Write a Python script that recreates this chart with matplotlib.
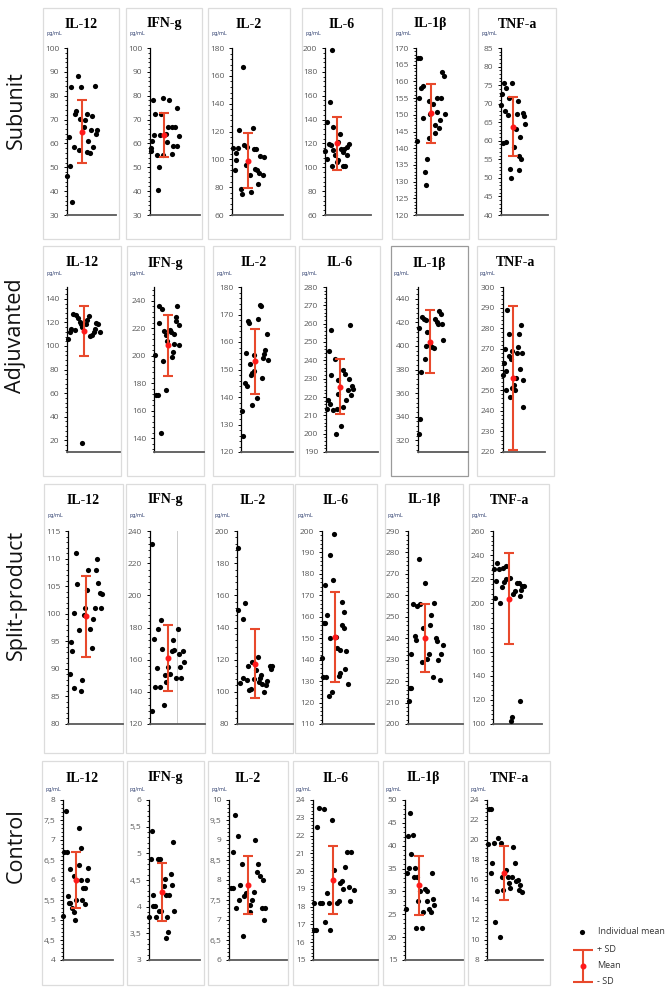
import matplotlib
matplotlib.use("Agg")
import matplotlib.pyplot as plt
from matplotlib.patches import Rectangle
from matplotlib.ticker import MultipleLocator, AutoMinorLocator, FuncFormatter

# ---- data -------------------------------------------------------------
GROUPS = ["Subunit", "Adjuvanted", "Split-product", "Control"]
CYTOKINES = ["IL-12", "IFN-g", "IL-2", "IL-6", "IL-1β", "TNF-a"]

# axis ranges (min, max, major step) per row
SUB_RANGE = [(30, 100, 10), (30, 100, 10), (60, 180, 20), (60, 200, 20), (120, 170, 5), (40, 85, 5)]
ADJ_RANGE = [(10, 150, 20), (130, 250, 20), (120, 180, 10), (190, 280, 10), (310, 450, 20), (220, 300, 10)]
SPL_RANGE = [(80, 115, 5), (120, 240, 20), (80, 200, 20), (110, 200, 10), (200, 290, 10), (100, 260, 20)]
CTL_RANGE = [(4, 8, 0.5), (3, 6, 0.5), (6, 10, 0.5), (15, 24, 1), (15, 50, 5), (8, 24, 2)]

SUB_MEAN = [65, 63.5, 99, 120, 150.5, 63.8]
SUB_SD = [13, 9.2, 19.8, 22.5, 8.8, 7.9]
ADJ_MEAN = [112.5, 207.5, 153, 225.5, 403.5, 256]
ADJ_SD = [21.3, 22, 11.9, 15, 26.8, 35]
SPL_MEAN = [99.5, 161, 117.5, 150.5, 240, 204]
SPL_SD = [7.4, 20.5, 21.4, 21, 15.8, 37.4]
CTL_MEAN = [6.0, 4.28, 7.88, 19.5, 31.3, 16.7]
CTL_SD = [0.7, 0.54, 0.73, 1.9, 6.4, 2.7]

# individual means (values) and their horizontal jitter (px from y axis)
SUB_IL12 = [83.5, 88.2, 83.8, 84.2, 62.8, 46.4, 50.4, 35.4, 73.8, 72.4, 70.3, 58.5, 57.1,
            72.3, 71.7, 67, 65.8, 65.8, 63.9, 61.1, 58.4, 56.6, 55.8, 69.9]
SUB_IL12_X = [3.7, 10.7, 14, 27.7, 2, 0.3, 3, 5.3, 8.7, 8, 12.7, 6.7, 12,
              20, 25.3, 16.7, 24, 30, 28.7, 20.7, 26, 20, 22.7, 17.7]
SUB_IFNG = [78, 79, 78, 74.9, 72.4, 72.4, 63.5, 63.5, 61.2, 58, 57, 55, 55, 50.3, 40.5,
            66.8, 66.8, 67, 60.5, 59, 59, 63, 55.6, 64]
SUB_IFNG_X = [3.3, 13.3, 19.3, 26.7, 5.3, 11.3, 4, 10, 1.7, 1, 0.7, 6.7, 12.7, 9, 7.7,
              18.3, 22, 25.3, 16.7, 23.3, 26.7, 28.7, 22.3, 16]
SUB_IL2 = [166.4, 121.4, 122.3, 108.5, 108.5, 104.6, 110, 109, 107.3, 107.3, 99.2, 92, 96,
           88.9, 92.9, 92, 102.5, 102, 90.1, 88.4, 82.4, 78.6, 75, 76.4]
SUB_IL2_X = [11.3, 7.3, 20.7, 1, 6.3, 4.3, 11.7, 15, 22.3, 24.3, 3.7, 3, 14.3,
             17.7, 23, 25, 28.3, 32.3, 26.7, 30.7, 26, 9.3, 10, 19]
SUB_IL6 = [198.6, 154.5, 137.6, 134, 114, 107.2, 119.9, 118.5, 100.8, 114.3, 110, 104.4,
           105.8, 128.3, 115.7, 112.9, 115.7, 117.1, 119.3, 110, 100.8, 100.8, 121.5]
SUB_IL6_X = [7.3, 5.3, 2.3, 8.3, 0.3, 1.7, 4, 5.7, 6.7, 7.7, 10, 11.7,
             13.3, 15, 15.7, 17.7, 19, 21.7, 23.7, 22.3, 17.7, 19.7, 13.3]
SUB_IL1B = [167, 167, 154.9, 157.9, 158.7, 149.1, 142.1, 154.1, 153.1, 150.2, 143, 136.9,
            133, 129, 154.9, 154.9, 150.7, 162.9, 161.7, 150.3, 148.3, 146.9, 145.9, 144.5]
SUB_IL1B_X = [1.7, 4, 3, 5, 7.3, 6.7, 0.7, 13, 17.3, 14, 13, 11.3,
              9, 10, 20.7, 24.7, 21.3, 26.3, 28, 28.7, 24, 19.3, 23, 19.3]
SUB_TNFA = [75.5, 74.2, 75.5, 72.6, 69.6, 67.9, 67, 71.6, 59.3, 59.6, 70.6, 67.3, 67.4,
            66.8, 64.5, 63.1, 60.9, 58.2, 55.9, 55.2, 52.5, 52.2, 50.1]
SUB_TNFA_X = [2.7, 5, 11, 1, 0, 3.7, 7, 7.7, 1.7, 5, 16.7, 16, 21.7,
              23.3, 23.7, 14.7, 19.3, 13.3, 18, 20.3, 8.7, 17.7, 10]

ADJ_IL12 = [105.6, 111.8, 114.1, 127.4, 126.5, 113.6, 123.7, 120.3, 118.3, 116.3, 118.6,
            122, 125.4, 108.4, 109.6, 111.8, 114.1, 119.2, 118.6, 112.1, 17.6]
ADJ_IL12_X = [1, 2.7, 4.3, 6, 8.7, 7.7, 11.3, 12.7, 14, 15.3, 19.3,
              20.3, 22, 23.3, 24.7, 26.7, 28, 29, 31.3, 33, 15.3]
ADJ_IFNG = [236.4, 234.2, 223.8, 200.3, 171.5, 171.5, 144.1, 175, 196, 218, 215, 211,
            219, 217.3, 202.7, 208.8, 199, 215.6, 228.2, 236.4, 225, 222.6, 208.1]
ADJ_IFNG_X = [4.7, 8, 5.3, 1.3, 1.7, 4, 7, 11.7, 8.7, 10, 11.7, 12.7,
              16.3, 17, 18.7, 19.7, 17.7, 20, 22, 23, 22, 25, 25.3]
ADJ_IL2 = [135, 125.7, 145, 144.1, 156, 167.7, 167, 152.1, 148, 148.9, 149.6, 155.4, 137,
           139.6, 168.4, 173.5, 173, 146.8, 154.1, 155.6, 157.2, 163, 153.3]
ADJ_IL2_X = [1.3, 2.3, 4.3, 6.3, 5.3, 6.7, 7.7, 8.7, 10, 11.3, 12.7, 13.3, 11.3,
             16, 17.3, 18.7, 19.7, 20.7, 22, 22.7, 24.3, 26, 27.3]
ADJ_IL6 = [256.7, 245.1, 240.9, 231.8, 218.5, 213.6, 216.4, 212.7, 213.6, 199.6, 229.5,
           221.5, 204.2, 214.5, 234.9, 232.7, 218.2, 223.6, 230, 259.1, 220.9, 226, 224.5]
ADJ_IL6_X = [4.7, 3.3, 8.7, 5.3, 1.7, 0.7, 4, 7.3, 10.7, 10, 12.3,
             12.3, 15.3, 16.7, 17.3, 18.7, 20, 22.3, 23, 24, 24.7, 26, 27.3]
ADJ_IL1B = [324.9, 338.2, 414.8, 378.2, 424.6, 423.2, 422.4, 388.9, 412, 400.1, 400.7,
            399.3, 397.9, 423.2, 420.4, 418.4, 429.7, 427.5, 418.2, 404.9]
ADJ_IL1B_X = [0.7, 2, 1, 3, 4.3, 6.3, 8, 6.7, 9, 8.3, 12.3,
              14, 16, 17.3, 19, 19.7, 21.3, 23, 23.7, 24.7]
ADJ_TNFA = [289, 277.2, 270.1, 263.2, 257.2, 259.1, 249.9, 266.4, 265.3, 268.8, 246.9,
            251.1, 252.3, 249.9, 255.9, 268, 270.9, 277.1, 281.7, 260.3, 268.2, 255.1, 241.7]
ADJ_TNFA_X = [4.3, 6, 2, 0.7, 0, 3.3, 2.7, 6, 8, 9, 7.3,
              9.3, 11.3, 12, 13.3, 14, 15.3, 16.3, 18, 17.3, 19, 20.3, 19.7]

SPL_IL12 = [89, 94.9, 93.3, 86.6, 111.1, 100.1, 105.4, 97, 85.9, 88, 99.8, 101.1, 104.3,
            108, 97.3, 93.7, 99, 101.1, 107.9, 110, 105.6, 103.7, 103.6, 101.1]
SPL_IL12_X = [1.7, 2.7, 4, 5.7, 8, 6.3, 9.3, 11, 12.7, 13.7, 15.7, 16.7, 19.3,
              20.3, 21.7, 23.7, 24.7, 26.7, 27.7, 29, 30, 31.7, 34.3, 33]
SPL_IFNG = [232.1, 128, 173.1, 143.1, 155.1, 178.9, 142.7, 184.7, 166.9, 132.1, 150.6,
            146.2, 155.7, 150.8, 165.1, 166.1, 172.1, 148.9, 178.9, 163.4, 148.9, 155.7,
            165.1, 158.8]
SPL_IFNG_X = [1.7, 2.3, 3.7, 4.7, 6.7, 8, 10, 11.3, 12, 14, 15,
              15.7, 18.3, 20, 21.7, 24, 23, 26, 27.7, 29, 31, 30.3, 33, 34.3]
SPL_IL2 = [189.4, 150.6, 105.4, 108.7, 145, 155.2, 107.5, 115.8, 100.9, 101.9, 118.5,
           108.1, 113.3, 121.6, 106.1, 108.7, 110.6, 105, 100, 104.4, 106.6, 115.8, 114, 115.8]
SPL_IL2_X = [1, 1.3, 3.3, 5.7, 6.3, 7.7, 10, 10.7, 12, 14, 15,
             16.7, 19.3, 20.7, 21.7, 22.7, 24.3, 25.3, 26.7, 29, 30, 32.7, 34, 35]
SPL_IL6 = [198.8, 189, 177, 175, 161, 157.2, 157.2, 140.8, 131.9, 131.9, 122.9, 124.9, 150,
           150.5, 145.5, 144.4, 132.2, 133.8, 167, 162, 156.1, 154.8, 143.9, 135.8, 128.8]
SPL_IL6_X = [11.7, 7.7, 10.7, 3.3, 5.3, 2, 3.3, 0, 1, 4.3, 6.7, 10, 8.3,
             13.7, 15, 17.7, 16.7, 17.7, 20, 22.3, 19.7, 21.7, 24.3, 23.3, 26.3]
SPL_IL1B = [210.9, 216.8, 216.8, 232.8, 256, 240.9, 239.1, 255, 277.1, 256, 228.9, 244.8,
            265.9, 230.3, 232.8, 246.1, 250.7, 222, 256.4, 239.9, 238.6, 230, 220.4, 232.8, 236.7]
SPL_IL1B_X = [0.7, 1.7, 3, 3.3, 5, 6.7, 8.3, 9, 10.7, 11.7, 13.7, 15,
              16.7, 19, 20.7, 21.7, 23.3, 24.7, 26.3, 27.7, 29, 30, 31.7, 33.3, 34.7]
SPL_TNFA = [228.4, 204.8, 218.7, 233.7, 228.1, 200.7, 213.7, 229, 217.9, 220.3, 231.2,
            220.7, 102.8, 105.5, 207.6, 210, 216.5, 216.5, 206.2, 210.9, 214.2, 214.5, 119.4]
SPL_TNFA_X = [0.7, 2, 3.3, 4.3, 6, 7, 8.7, 9.7, 11.3, 12.7, 13,
              17, 18, 18.7, 20, 22, 24, 26, 27.3, 28.3, 29.3, 31, 26.7]

CTL_IL12 = [7.72, 6.71, 6.71, 5.1, 5.61, 5.42, 5.42, 6.27, 5.29, 5.21, 5, 6.11, 5.5,
            7.31, 6.38, 6.79, 6, 5.5, 5.79, 5.79, 5.4, 6, 6.31]
CTL_IL12_X = [2.7, 1.3, 4.3, 0.3, 4.7, 6, 7.3, 6.7, 9.3, 10.7, 11.7, 10.7, 13.3,
              16, 15.7, 18.3, 17.7, 19.3, 20.3, 22, 22, 24, 24.7]
CTL_IFNG = [5.42, 4.9, 3.81, 4.22, 4.01, 4.01, 3.81, 4.9, 4.9, 3.91, 3.91, 4.39, 4.52,
            4.22, 3.81, 3.52, 3.41, 4.22, 4.61, 4.41, 5.22, 3.91]
CTL_IFNG_X = [3, 2, 0, 4, 4, 6.3, 7, 8.7, 10.7, 9.7, 11.7, 14.7, 16,
              16.7, 18, 19, 17.3, 20.3, 22, 23.3, 24.3, 25.3]
CTL_IL2 = [9.62, 8.69, 9.1, 7.8, 7.8, 7.29, 7.49, 7.88, 8.4, 7.59, 7.67, 6.59, 7.19,
           7.38, 7.49, 7.69, 9, 8.19, 8.4, 8.09, 7.99, 7.29, 7.29, 6.99]
CTL_IL2_X = [5.7, 4, 8.7, 2, 3.7, 6.7, 10, 11.3, 13, 15.3, 16.7, 14, 20.7,
             21.3, 23, 24.7, 26.3, 28, 29.3, 31, 34, 32.7, 36.3, 35.3]
CTL_IL6 = [23.57, 23.47, 22.46, 22.87, 16.69, 16.69, 18.2, 18.2, 18.2, 17.13, 18.78, 18.2,
           16.69, 20.04, 18.2, 18.31, 19.33, 19.42, 19, 20.23, 21.06, 21.06, 19.1, 18.31, 18.91]
CTL_IL6_X = [6, 10.7, 4, 19, 1.3, 2.7, 0.7, 7.3, 9, 12.3, 14, 15.7,
             17.3, 21.3, 24, 25.7, 27.3, 29, 30, 32.3, 34, 38.3, 35.7, 37.3, 40.7]
CTL_IL1B = [26.1, 34.1, 42.1, 47.2, 42.3, 38.1, 35.1, 35.1, 33.2, 33.2, 22.1, 22.1, 28,
            30.1, 25.6, 30.5, 30, 27.9, 26.1, 25.6, 34.1, 28.3, 27]
CTL_IL1B_X = [0.7, 1.7, 3, 5, 7.7, 6.3, 4, 10, 9, 12.3, 11, 17, 13.3,
              15, 18.3, 19.7, 21.7, 22.3, 24.3, 25.7, 27, 28.3, 29.3]
CTL_TNFA = [23.13, 23.13, 19.63, 19.73, 17.73, 16.73, 11.8, 10.27, 14.9, 20.2, 19.7, 16.33,
            15, 17, 16.33, 15.67, 15.23, 16.33, 19.33, 17.73, 15.9, 16, 14.97, 15.5, 14.8]
CTL_TNFA_X = [2.3, 4, 1.3, 6.7, 5.3, 4.3, 8.3, 12.7, 9.7, 11.3, 13.7, 14.7,
              16.3, 19.3, 20.7, 21.7, 23.3, 25, 26.3, 28, 29.3, 31.3, 32, 33.3, 34.7]

# ---- layout (pixels of the 672x991 canvas) ----------------------------
W, H = 672, 991
ROW_BOX_Y = [(8, 239), (246, 476), (484, 753), (761, 985)]
ROW_AX_Y = [(48, 215), (287, 452), (531, 724), (800, 960)]
ROW_TITLE_Y = [24, 263, 500, 778]
ROW_UNIT_Y = [34, 273, 515, 790]
ROW_LABEL_Y = [110, 336, 595, 846]
BOX_X = [
    [(43, 119), (126, 202), (208, 290), (302, 382), (392, 469), (478, 556)],
    [(43, 121), (127, 204), (213, 295), (299, 380), (391, 468), (477, 554)],
    [(44, 123), (126, 205), (212, 293), (295, 377), (385, 463), (469, 549)],
    [(42, 123), (127, 204), (208, 288), (293, 378), (383, 464), (468, 550)],
]
AX_X = [
    [(67, 116), (150, 200), (232, 283), (325, 371), (416, 463), (501, 548)],
    [(67, 120), (154, 204), (241, 293), (326, 378), (418, 468), (503, 545)],
    [(68, 123), (150, 205), (237, 293), (322, 374), (408, 463), (493, 542)],
    [(63, 113), (149, 200), (229, 287), (313, 378), (405, 463), (487, 543)],
]

ERR_COLOR = "#e8492c"
TICK_GRAY = "#595959"

rows = [
    (SUB_RANGE, SUB_MEAN, SUB_SD,
     [(SUB_IL12, SUB_IL12_X), (SUB_IFNG, SUB_IFNG_X), (SUB_IL2, SUB_IL2_X),
      (SUB_IL6, SUB_IL6_X), (SUB_IL1B, SUB_IL1B_X), (SUB_TNFA, SUB_TNFA_X)]),
    (ADJ_RANGE, ADJ_MEAN, ADJ_SD,
     [(ADJ_IL12, ADJ_IL12_X), (ADJ_IFNG, ADJ_IFNG_X), (ADJ_IL2, ADJ_IL2_X),
      (ADJ_IL6, ADJ_IL6_X), (ADJ_IL1B, ADJ_IL1B_X), (ADJ_TNFA, ADJ_TNFA_X)]),
    (SPL_RANGE, SPL_MEAN, SPL_SD,
     [(SPL_IL12, SPL_IL12_X), (SPL_IFNG, SPL_IFNG_X), (SPL_IL2, SPL_IL2_X),
      (SPL_IL6, SPL_IL6_X), (SPL_IL1B, SPL_IL1B_X), (SPL_TNFA, SPL_TNFA_X)]),
    (CTL_RANGE, CTL_MEAN, CTL_SD,
     [(CTL_IL12, CTL_IL12_X), (CTL_IFNG, CTL_IFNG_X), (CTL_IL2, CTL_IL2_X),
      (CTL_IL6, CTL_IL6_X), (CTL_IL1B, CTL_IL1B_X), (CTL_TNFA, CTL_TNFA_X)]),
]


def fx(x):
    return x / W


def fy(y):
    return 1 - y / H


comma_fmt = FuncFormatter(lambda v, p: f"{v:g}".replace(".", ","))

fig = plt.figure(figsize=(W / 100, H / 100), dpi=100)
fig.patch.set_facecolor("white")

for r, (ranges, means, sds, panels) in enumerate(rows):
    by0, by1 = ROW_BOX_Y[r]
    ay0, ay1 = ROW_AX_Y[r]
    fig.text(fx(16), fy(ROW_LABEL_Y[r]), GROUPS[r], rotation=90, ha="center", va="center",
             fontsize=15.5, family="Open Sans", color="#111111")
    for c, (vals, jit) in enumerate(panels):
        bx0, bx1 = BOX_X[r][c]
        ax0, ax1 = AX_X[r][c]
        edge = "#9a9a9a" if (r == 1 and c == 4) else "#dcdcdc"
        fig.add_artist(Rectangle((fx(bx0), fy(by1)), fx(bx1 - bx0), (by1 - by0) / H,
                                 transform=fig.transFigure, facecolor="white",
                                 edgecolor=edge, lw=0.9, zorder=0))
        fig.text(fx((bx0 + bx1) / 2), fy(ROW_TITLE_Y[r]), CYTOKINES[c], ha="center",
                 va="center", fontsize=10, fontweight="bold", family="Liberation Serif")
        fig.text(fx(bx0 + 3), fy(ROW_UNIT_Y[r]), "pg/mL", ha="left", va="center",
                 fontsize=3.6, color="#2f3f6f")

        lo, hi, step = ranges[c]
        ax = fig.add_axes([fx(ax0), fy(ay1), fx(ax1 - ax0), (ay1 - ay0) / H])
        ax.patch.set_alpha(0)
        ax.set_xlim(0, ax1 - ax0)
        ax.set_ylim(lo, hi)
        ax.scatter(jit, vals, s=14, color="black", zorder=3, clip_on=False, linewidths=0)
        xm = sum(jit) / len(jit)
        ax.errorbar([xm], [means[c]], yerr=[sds[c]], fmt="o", color=ERR_COLOR, ms=3.3,
                    mfc="#ff1a1a", mec="#ff1a1a", elinewidth=1.5, capsize=3.6,
                    capthick=1.5, zorder=4, clip_on=False)
        if r == 2 and c == 1:
            ax.axvline(26.7, color="#cccccc", lw=0.7, zorder=1)
        for s in ("top", "right"):
            ax.spines[s].set_visible(False)
        ax.spines["left"].set_color("black")
        ax.spines["left"].set_linewidth(0.9)
        ax.spines["bottom"].set_color(TICK_GRAY)
        ax.spines["bottom"].set_linewidth(1.3)
        ax.set_xticks([])
        ax.yaxis.set_major_locator(MultipleLocator(step))
        ax.yaxis.set_minor_locator(AutoMinorLocator(5))
        if r == 3:
            ax.yaxis.set_major_formatter(comma_fmt)
        ax.tick_params(axis="y", which="major", length=2.5, width=0.7, pad=3,
                       labelsize=6, labelcolor=TICK_GRAY)
        ax.tick_params(axis="y", which="minor", length=1.6, width=0.6)
        for lab in ax.get_yticklabels():
            lab.set_family("Open Sans")

# ---- legend -------------------------------------------------------------
lg = fig.add_axes([fx(570), fy(990), fx(100), 70 / H])
lg.set_xlim(0, 100)
lg.set_ylim(70, 0)
lg.axis("off")
lg.scatter([12], [12], s=14, color="black", linewidths=0)
lg.text(28, 12, "Individual mean", va="center", fontsize=6.5, family="Open Sans", color="#333333")
lg.errorbar([13], [46], yerr=[16], fmt="o", color=ERR_COLOR, ms=3.3, mfc="#ff1a1a",
            mec="#ff1a1a", elinewidth=1.5, capsize=7, capthick=1.5)
lg.text(27, 30, "+ SD", va="center", fontsize=6.5, family="Open Sans", color="#333333")
lg.text(27, 46, "Mean", va="center", fontsize=6.5, family="Open Sans", color="#333333")
lg.text(27, 62, "- SD", va="center", fontsize=6.5, family="Open Sans", color="#333333")

fig.savefig("out.png", dpi=100)
